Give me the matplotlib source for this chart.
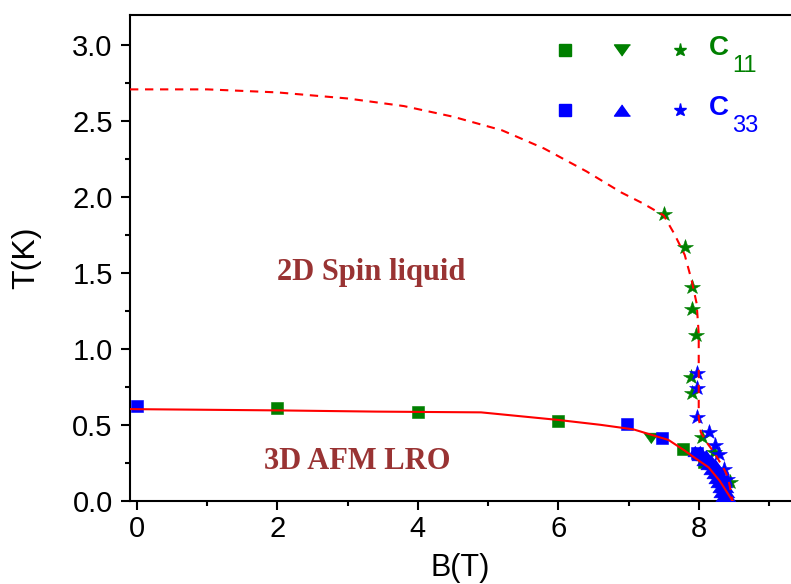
import matplotlib
matplotlib.use("Agg")
import matplotlib.pyplot as plt
from matplotlib.ticker import MultipleLocator, FormatStrFormatter

# ---- phase boundaries ----
afm_B = [-0.1, 0.0, 2.0, 3.4, 4.9, 6.0, 6.6, 7.07, 7.57, 7.8, 7.92, 8.14, 8.3, 8.48]
afm_T = [0.604, 0.603, 0.595, 0.587, 0.582, 0.532, 0.50, 0.47, 0.40, 0.33, 0.29, 0.22, 0.13, 0.0]

sl_B = [-0.1, 1.0, 2.0, 3.0, 3.8, 4.5, 5.2, 5.8, 6.4, 6.9, 7.2, 7.5, 7.65, 7.8, 7.9,
        7.97, 8.0, 8.0, 8.03, 8.12, 8.23, 8.37, 8.42, 8.46, 8.48]
sl_T = [2.71, 2.71, 2.69, 2.65, 2.60, 2.53, 2.44, 2.32, 2.17, 2.03, 1.96, 1.88, 1.76, 1.62, 1.45,
        1.30, 1.10, 0.55, 0.45, 0.38, 0.31, 0.20, 0.15, 0.05, 0.0]

# ---- C11 data ----
c11_sq_B = [2.0, 4.0, 6.0, 7.77, 8.07]
c11_sq_T = [0.609, 0.586, 0.525, 0.339, 0.257]
c11_tri_B = [7.32]
c11_tri_T = [0.41]
c11_star_B = [7.5, 7.8, 7.9, 7.91, 7.96, 7.89, 7.9, 8.05, 8.22, 8.45]
c11_star_T = [1.887, 1.67, 1.41, 1.26, 1.09, 0.817, 0.707, 0.42, 0.32, 0.12]

# ---- C33 data ----
c33_sq_B = [0.0, 6.98, 7.47, 7.97]
c33_sq_T = [0.624, 0.505, 0.415, 0.312]
c33_tri_B = [7.95, 8.02, 8.00, 8.06, 8.10, 8.08, 8.14, 8.18, 8.13, 8.19, 8.23,
             8.18, 8.24, 8.27, 8.22, 8.27, 8.31, 8.25, 8.30, 8.34, 8.28, 8.33, 8.37,
             8.30, 8.35, 8.39, 8.32, 8.37, 8.40, 8.34, 8.39, 8.42, 8.36, 8.41]
c33_tri_T = [0.33, 0.33, 0.30, 0.30, 0.30, 0.27, 0.27, 0.27, 0.24, 0.24, 0.24,
             0.21, 0.21, 0.21, 0.18, 0.18, 0.18, 0.15, 0.15, 0.15, 0.12, 0.12, 0.12,
             0.09, 0.09, 0.09, 0.06, 0.06, 0.06, 0.03, 0.03, 0.03, 0.01, 0.01]
c33_star_B = [7.97, 7.98, 7.98, 8.14, 8.23, 8.29, 8.36, 8.40]
c33_star_T = [0.843, 0.74, 0.55, 0.455, 0.37, 0.305, 0.21, 0.14]

GREEN = "#008000"
BLUE = "#0000FF"
RED = "#FF0000"
TXT = "#993333"

tri_up = [(0, 0.7), (-1, -0.7), (1, -0.7)]
tri_dn = [(0, -0.7), (-1, 0.7), (1, 0.7)]

plt.rcParams["font.family"] = ["Liberation Sans", "DejaVu Sans"]

fig = plt.figure(figsize=(7.91, 5.84), dpi=100)
ax = fig.add_axes([130 / 791, 1 - 500.7 / 584, 660 / 791, 485.7 / 584])

ms_sq, ms_tri, ms_star = 8.2, 11, 11.5
ax.plot(c11_sq_B, c11_sq_T, ls="none", marker="s", ms=ms_sq, color=GREEN, mew=0.4, zorder=3)
ax.plot(c11_tri_B, c11_tri_T, ls="none", marker=tri_dn, ms=ms_tri, color=GREEN, mew=0.4, zorder=3)
ax.plot(c11_star_B, c11_star_T, ls="none", marker="*", ms=ms_star, color=GREEN, mew=0.4, zorder=3)
ax.plot(c33_sq_B, c33_sq_T, ls="none", marker="s", ms=ms_sq, color=BLUE, mew=0.4, zorder=4)
ax.plot(c33_tri_B, c33_tri_T, ls="none", marker=tri_up, ms=ms_tri, color=BLUE, mew=0.4, zorder=4)
ax.plot(c33_star_B, c33_star_T, ls="none", marker="*", ms=ms_star, color=BLUE, mew=0.4, zorder=4)

ax.plot(afm_B, afm_T, color=RED, lw=1.5, zorder=5)
ax.plot(sl_B, sl_T, color=RED, lw=1.5, dashes=(4, 3.2), zorder=5)

ax.text(3.34, 1.457, "2D Spin liquid", family="Liberation Serif", weight="bold",
        fontsize=22, color=TXT, ha="center", va="baseline")
ax.text(3.13, 0.207, "3D AFM LRO", family="Liberation Serif", weight="bold",
        fontsize=22, color=TXT, ha="center", va="baseline")

# legend block drawn in axes fractions
leg_x = [0.659, 0.745, 0.833]
rows = [(0.928, GREEN, tri_dn, "C", "11"), (0.804, BLUE, tri_up, "C", "33")]
for yy, col, tri, main, sub in rows:
    ax.plot([leg_x[0]], [yy], marker="s", ms=8, color=col, transform=ax.transAxes, clip_on=False)
    ax.plot([leg_x[1]], [yy], marker=tri, ms=11.5, color=col, transform=ax.transAxes, clip_on=False)
    ax.plot([leg_x[2]], [yy], marker="*", ms=9.5, color=col, transform=ax.transAxes, clip_on=False)
    ax.text(0.877, yy + 0.005, main, fontsize=20, weight="bold", color=col,
            transform=ax.transAxes, ha="left", va="center")
    ax.text(0.912, yy - 0.032, sub, fontsize=17, color=col,
            transform=ax.transAxes, ha="left", va="center")

ax.set_xlim(-0.1, 9.3)
ax.set_ylim(0, 3.2)
ax.xaxis.set_major_locator(MultipleLocator(2))
ax.xaxis.set_minor_locator(MultipleLocator(1))
ax.yaxis.set_major_locator(MultipleLocator(0.5))
ax.yaxis.set_minor_locator(MultipleLocator(0.25))
ax.yaxis.set_major_formatter(FormatStrFormatter("%.1f"))

for s in ("left", "bottom", "top"):
    ax.spines[s].set_linewidth(1.5)
ax.spines["right"].set_visible(False)
ax.tick_params(which="both", direction="out", width=1.5, top=False, right=False)
ax.tick_params(which="major", length=6.5, labelsize=21)
ax.tick_params(which="minor", length=3.6)
ax.tick_params(axis="x", which="major", pad=4)
ax.tick_params(axis="y", which="major", pad=6)

ax.set_xlabel("B(T)", fontsize=22)
ax.set_ylabel("T(K)", fontsize=23)
ax.xaxis.set_label_coords(0.5, -0.108)
ax.yaxis.set_label_coords(-0.135, 0.5)

fig.savefig("out.png", dpi=100)
